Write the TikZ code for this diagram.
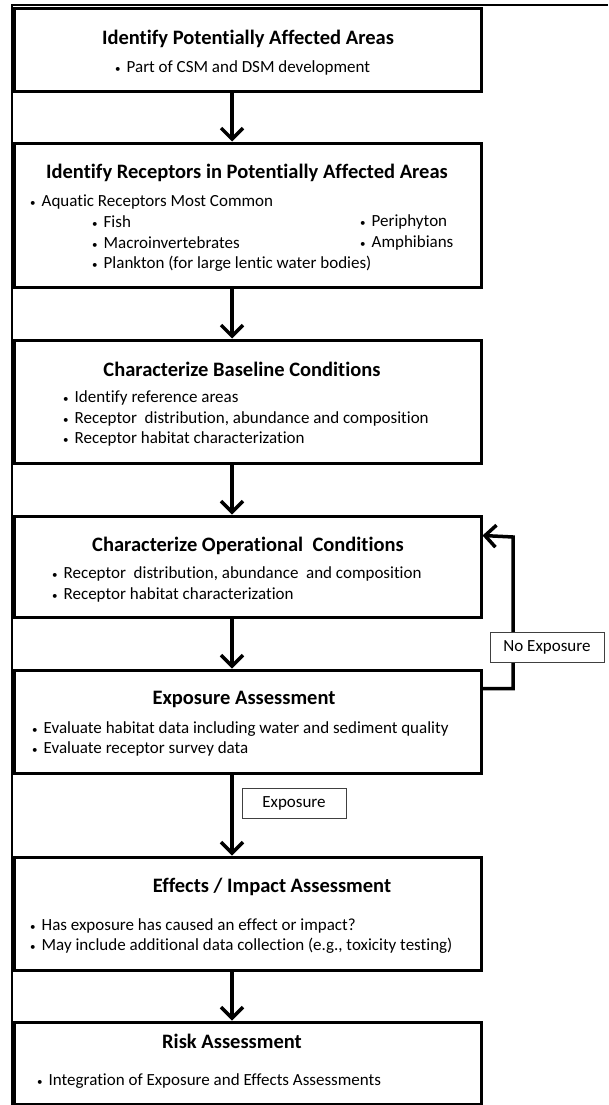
\documentclass[tikz,border=0pt]{standalone}
\usepackage{fontspec}
\setmainfont{Carlito}[Ligatures={NoCommon}]
\usetikzlibrary{arrows.meta, positioning}

\newcommand{\itm}{{\fontsize{11}{11}\selectfont\textbullet}\hspace{6pt}}

\begin{document}
\begin{tikzpicture}[x=1pt, y=-1pt,
    stagebox/.style={draw, line width=3pt, minimum width=467pt, inner sep=0pt},
    heading/.style={font=\fontsize{20.5}{22}\selectfont\bfseries, inner sep=0pt},
    item/.style={anchor=west, font=\fontsize{17}{19}\selectfont, inner sep=0pt},
    flow/.style={line width=3.5pt, -{Straight Barb[length=11pt, width=22pt, line width=3.5pt]}},
    tag/.style={draw=black!75, line width=0.8pt, fill=white, font=\fontsize{17}{19}\selectfont, minimum height=30pt, inner sep=0pt}]

    \useasboundingbox (0,0) rectangle (608,1105);

    % Draw outer frame
    \draw[line width=2.5pt] (12,1105) -- (12,5) -- (608,5);

    % Define the column of the arrows
    \coordinate (spine) at (232,0);

    % Draw the stage boxes
    \node[stagebox, minimum height=83pt]  (identify)    at (247.5,50.5) {};
    \node[stagebox, minimum height=144pt] (receptors)   at (247.5,215) {};
    \node[stagebox, minimum height=123pt] (baseline)    at (247.5,401.5) {};
    \node[stagebox, minimum height=101pt] (operational) at (247.5,566.5) {};
    \node[stagebox, minimum height=103pt] (exposure)    at (247.5,721.5) {};
    \node[stagebox, minimum height=113pt] (effects)     at (247.5,913.5) {};
    \node[stagebox, minimum height=82pt]  (risk)        at (247.5,1063) {};

    % Identify potentially affected areas
    \node[heading] (identifyTitle) at (248,39) {Identify Potentially Affected Areas};
    \node[item] (identifyA) at (115,68) {\itm Part of CSM and DSM development};

    % Identify receptors
    \node[heading] (receptorsTitle) at (247,173) {Identify Receptors in Potentially Affected Areas};
    \node[item] (receptorsA) at (30,202) {\itm Aquatic Receptors Most Common};
    \node[item] (receptorsB) at (92,222) {\itm Fish};
    \node[item] (receptorsC) at (92,243) {\itm Macroinvertebrates};
    \node[item] (receptorsD) at (92,264) {\itm Plankton (for large lentic water bodies)};
    \node[item] (receptorsE) at (360,222) {\itm Periphyton};
    \node[item] (receptorsF) at (360,243) {\itm Amphibians};

    % Baseline conditions
    \node[heading] (baselineTitle) at (242,369) {Characterize Baseline Conditions};
    \node[item] (baselineA) at (63,398) {\itm Identify reference areas};
    \node[item] (baselineB) at (63,419) {\itm Receptor\ \ distribution, abundance and composition};
    \node[item] (baselineC) at (63,439) {\itm Receptor habitat characterization};

    % Operational conditions
    \node[heading] (operationalTitle) at (248,546) {Characterize Operational\ \ Conditions};
    \node[item] (operationalA) at (52,574) {\itm Receptor\ \ distribution, abundance\ \ and composition};
    \node[item] (operationalB) at (52,595) {\itm Receptor habitat characterization};

    % Exposure assessment
    \node[heading] (exposureTitle) at (244,699) {Exposure Assessment};
    \node[item] (exposureA) at (32,729) {\itm Evaluate habitat data including water and sediment quality};
    \node[item] (exposureB) at (32,749) {\itm Evaluate receptor survey data};

    % Effects assessment
    \node[heading] (effectsTitle) at (272,887) {Effects / Impact Assessment};
    \node[item] (effectsA) at (30,926) {\itm Has exposure has caused an effect or impact?};
    \node[item] (effectsB) at (30,946) {\itm May include additional data collection (e.g., toxicity testing)};

    % Risk assessment
    \node[heading] (riskTitle) at (232,1041) {Risk Assessment};
    \node[item] (riskA) at (37,1081) {\itm Integration of Exposure and Effects Assessments};

    % Draw the main flow
    \foreach \a/\b in {identify/receptors, receptors/baseline, baseline/operational,
                       operational/exposure, exposure/effects, effects/risk}
        \draw[flow] (\a.south -| spine) -- (\b.north -| spine);

    % Draw the feedback loop
    \coordinate (loopTop) at (513,537);
    \draw[flow, line join=miter] ([yshift=-20pt]exposure.north east) -| (loopTop) -- ([yshift=-21pt]operational.north east);

    % Labels on the connectors
    \node[tag, minimum width=114pt] (noExposure) at (547,647) {No Exposure};
    \node[tag, minimum width=104pt] (yesExposure) at (294,803) {Exposure};

\end{tikzpicture}
\end{document}
